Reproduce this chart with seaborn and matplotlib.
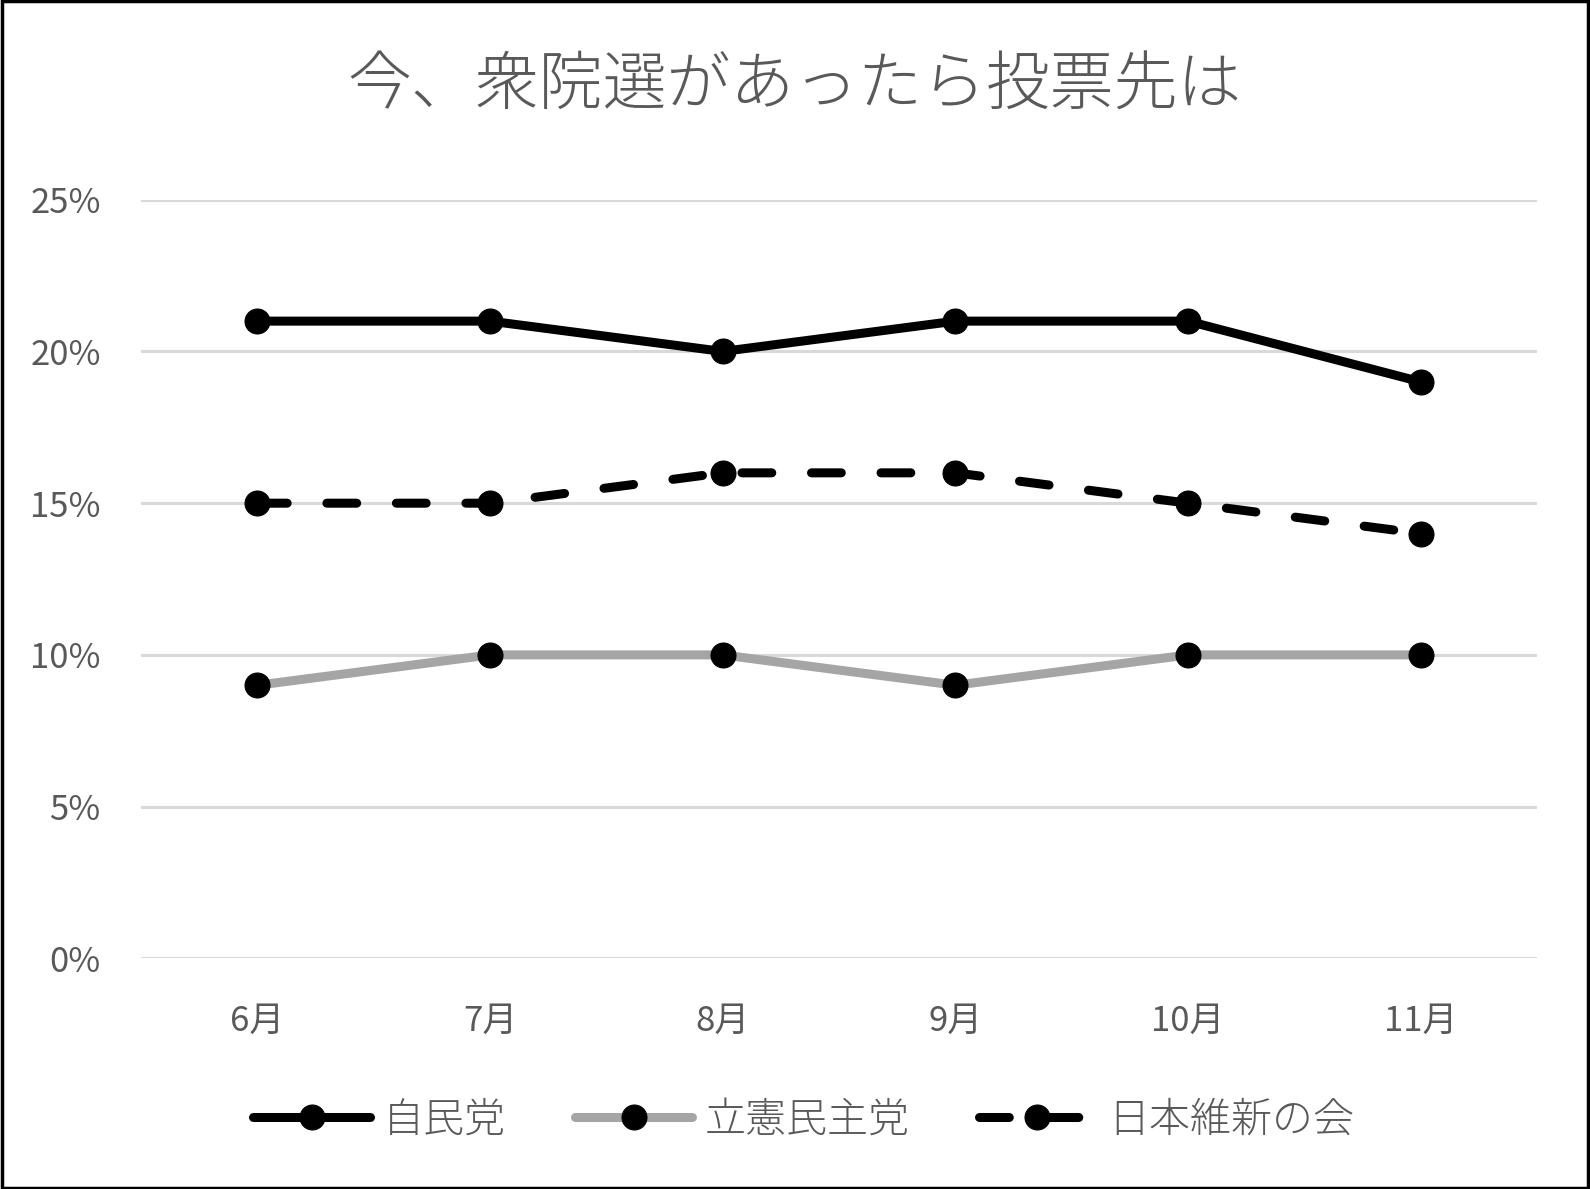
import matplotlib
matplotlib.use("Agg")
import matplotlib.pyplot as plt
import seaborn as sns
import pandas as pd
from matplotlib.patches import Rectangle
from matplotlib.ticker import FuncFormatter

months = ["6月", "7月", "8月", "9月", "10月", "11月"]
ldp = [21, 21, 20, 21, 21, 19]
cdp = [9, 10, 10, 9, 10, 10]
ishin = [15, 15, 16, 16, 15, 14]
series_names = ["自民党", "立憲民主党", "日本維新の会"]
title = "今、衆院選があったら投票先は"

sns.set_theme(style="white")
plt.rcParams['font.family'] = ['Noto Sans CJK JP', 'DejaVu Sans']
plt.rcParams['font.weight'] = 'light'

fig = plt.figure(figsize=(15.9, 11.89), dpi=100)
ax = fig.add_axes([0.0887, 0.194, 0.878, 0.638])

xs = list(range(len(months)))
styles = [
    (ldp, "black", "-"),
    (cdp, "#a5a5a5", "-"),
    (ishin, "black", "--"),
]
lw = 6.5
for (vals, col, ls), name in zip(styles, series_names):
    df = pd.DataFrame({"x": xs, "v": vals})
    sns.lineplot(data=df, x="x", y="v", ax=ax, color=col, linewidth=lw,
                 marker="o", markersize=18, markerfacecolor="black",
                 markeredgecolor="black", label=name, legend=False,
                 solid_capstyle="round", dash_capstyle="round", zorder=3)
    line = ax.get_lines()[-1]
    line.set_color(col)
    line.set_markerfacecolor("black")
    line.set_markeredgecolor("black")
    if ls == "--":
        line.set_dashes((3.3, 4.4))

ax.set_xlim(-0.5, len(months) - 0.5)
ax.set_ylim(0, 25)
ax.set_yticks([0, 5, 10, 15, 20, 25])
ax.yaxis.set_major_formatter(FuncFormatter(lambda v, p: f"{v:.0f}%"))
ax.set_xticks(xs)
ax.set_xticklabels(months)
ax.set_xlabel("")
ax.set_ylabel("")
ax.grid(axis="y", color="#d9d9d9", linewidth=2.2, zorder=0)
ax.grid(axis="x", visible=False)
for s in ax.spines.values():
    s.set_visible(False)
ax.tick_params(axis="y", length=0, pad=29, labelsize=25, labelcolor="#595959")
ax.tick_params(axis="x", length=0, pad=33, labelsize=25, labelcolor="#595959")
for t in ax.get_xticklabels() + ax.get_yticklabels():
    t.set_fontweight("normal")

fig.text(0.5, 0.927, title, ha="center", va="center", fontsize=46, color="#595959")

handles = ax.get_lines()[:3]
leg = fig.legend(handles, series_names, loc="center", bbox_to_anchor=(0.5055, 0.058),
                 ncol=3, frameon=False, fontsize=29.5, handlelength=2.85,
                 handletextpad=0.3, columnspacing=1.7, labelcolor="#595959")

fig.add_artist(Rectangle((0.001, 0.001), 0.998, 0.998, transform=fig.transFigure,
                         fill=False, edgecolor="black", linewidth=2.5))

fig.savefig("out.png", dpi=100, facecolor="white")
